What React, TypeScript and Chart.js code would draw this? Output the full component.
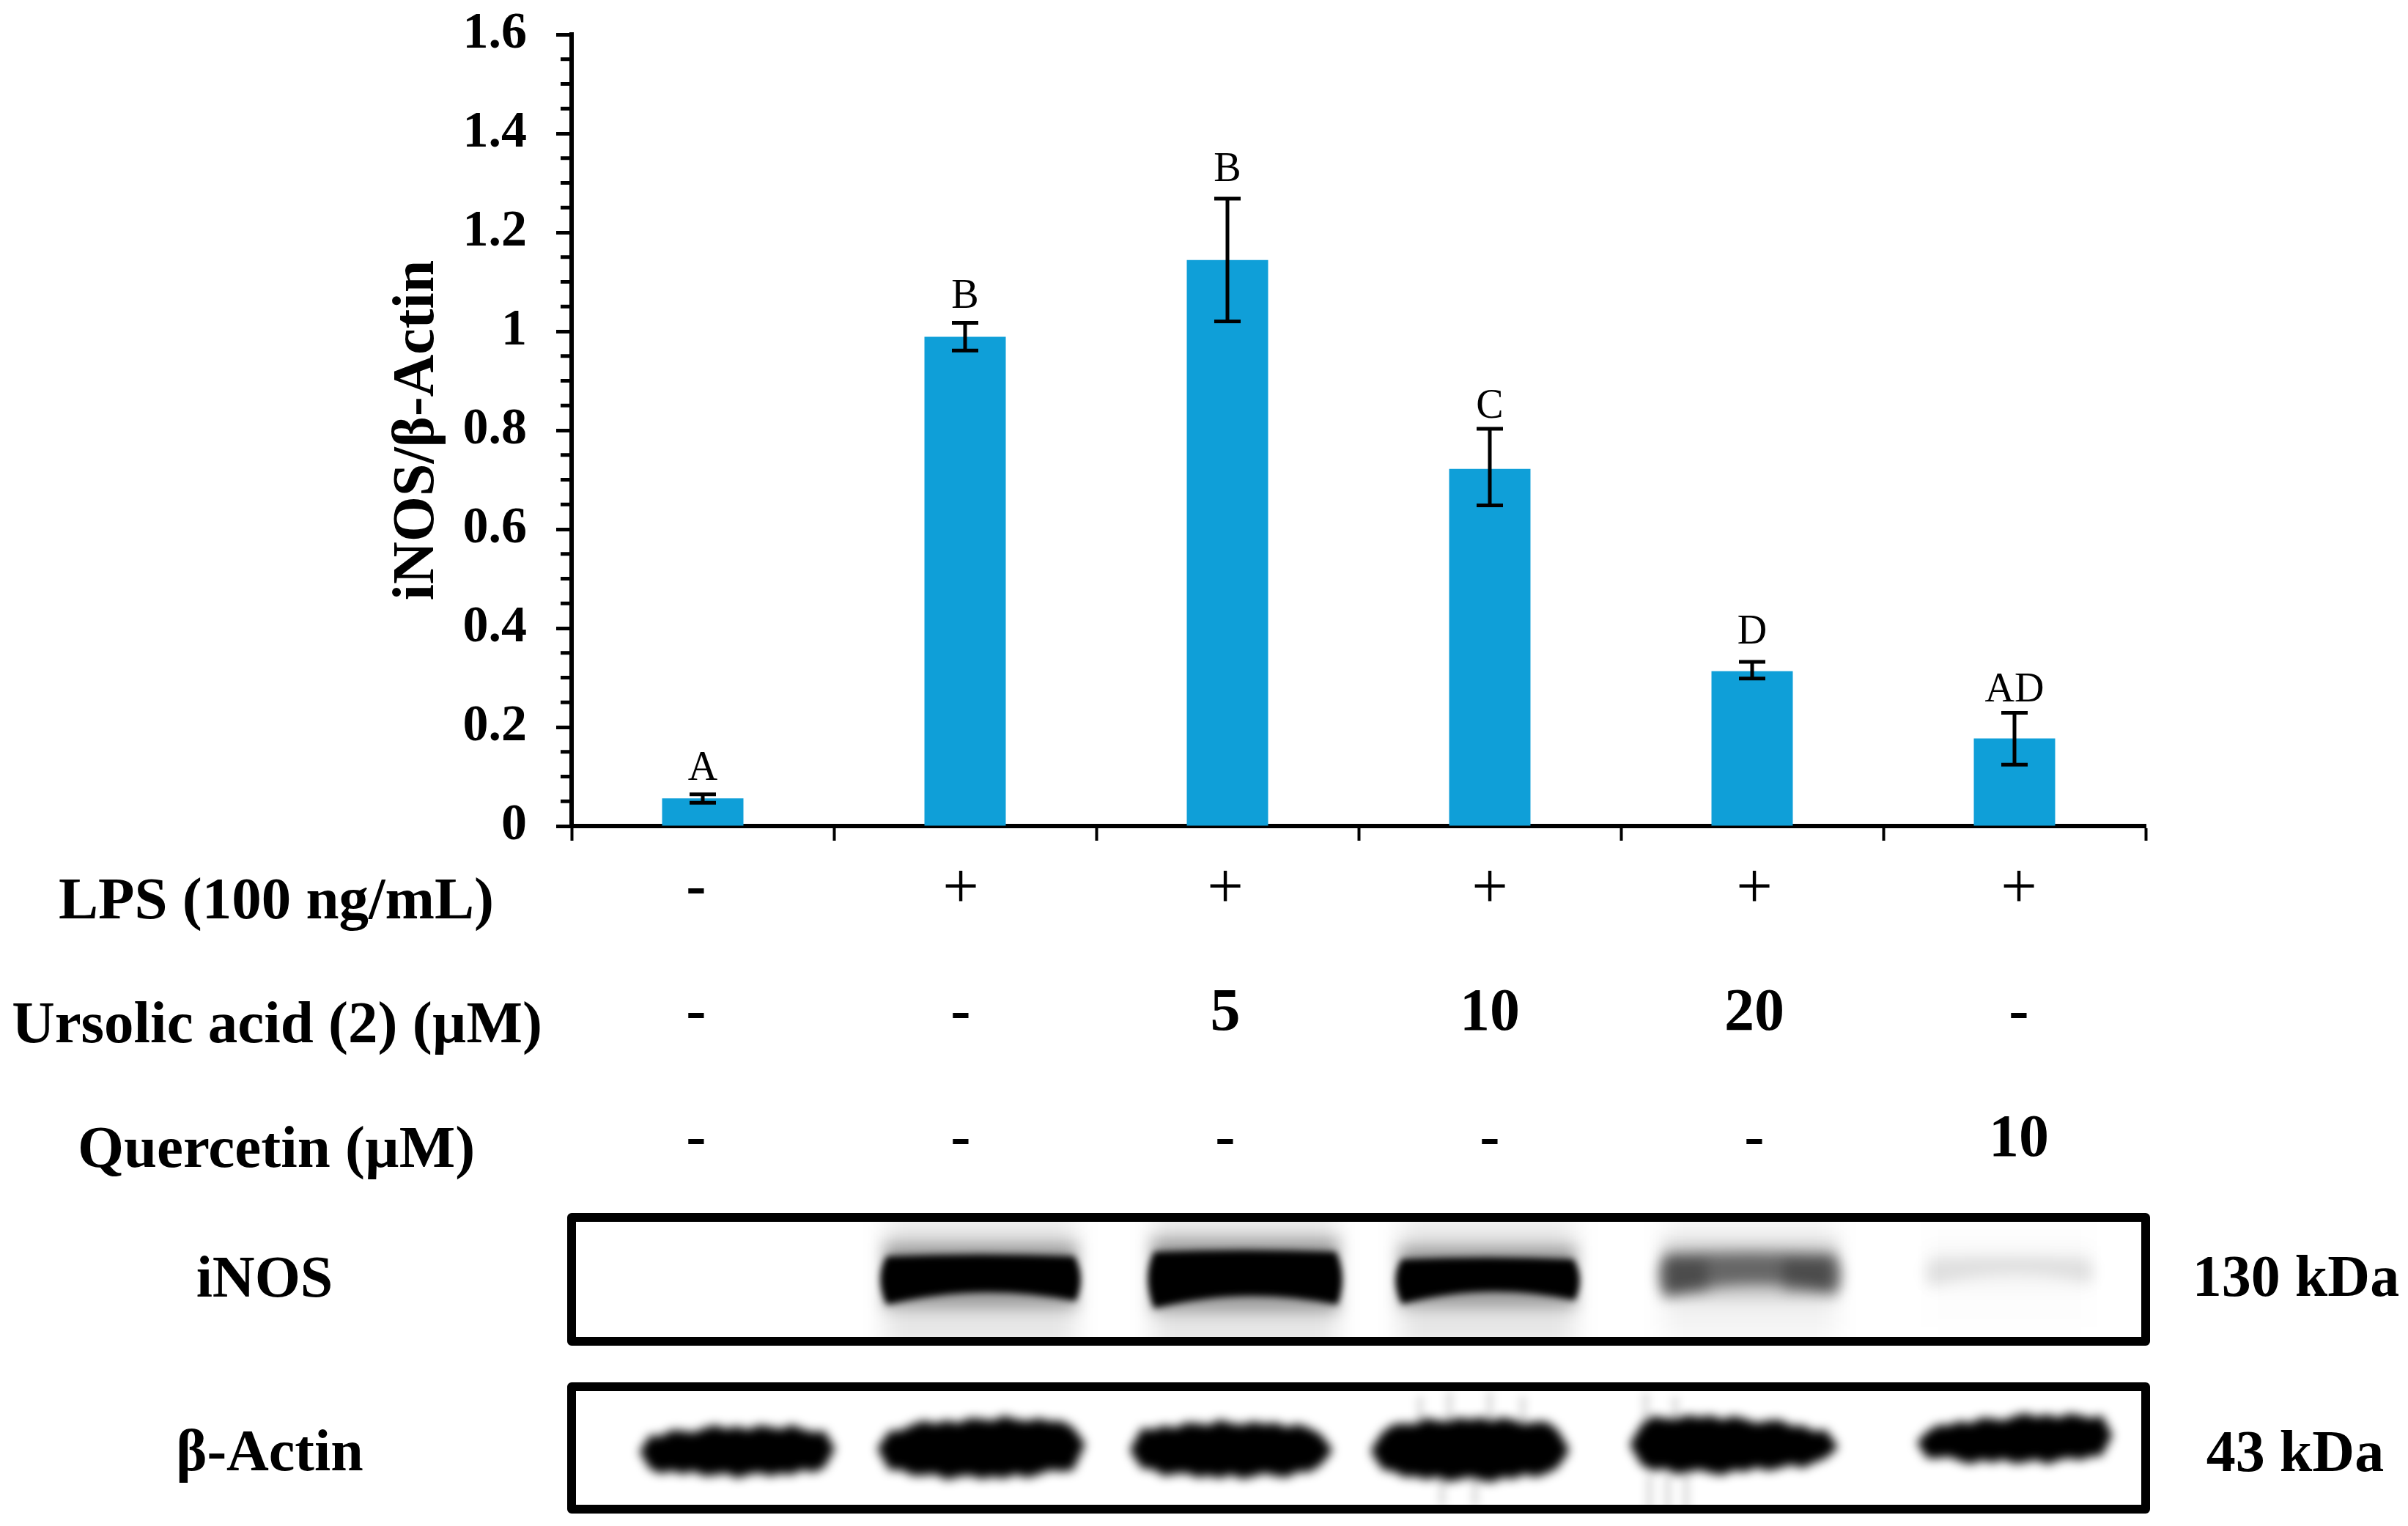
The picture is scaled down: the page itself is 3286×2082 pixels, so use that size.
import React, { useEffect, useRef } from "react";
import { Chart, registerables } from "chart.js";

Chart.register(...registerables);

const categories = ["Control", "LPS", "UA 5", "UA 10", "UA 20", "Quercetin 10"];
const means = [0.056, 0.989, 1.144, 0.722, 0.313, 0.177];
const errLow = [0.047, 0.961, 1.02, 0.648, 0.298, 0.124];
const errHigh = [0.064, 1.017, 1.268, 0.803, 0.332, 0.229];
const letters = ["A", "B", "B", "C", "D", "AD"];
const letterLevels = [0.094, 1.048, 1.303, 0.825, 0.369, 0.252];
const minorTicks = [0.05, 0.1, 0.15, 0.25, 0.3, 0.35, 0.45, 0.5, 0.55, 0.65, 0.7, 0.75, 0.85, 0.9, 0.95, 1.05, 1.1, 1.15, 1.25, 1.3, 1.35, 1.45, 1.5, 1.55];
const lpsRow = ["-", "+", "+", "+", "+", "+"];
const ursolicRow = ["-", "-", "5", "10", "20", "-"];
const quercetinRow = ["-", "-", "-", "-", "-", "10"];
const rowNames = ["LPS (100 ng/mL)", "Ursolic acid (2) (\u00b5M)", "Quercetin (\u00b5M)"];
const blotNames = ["iNOS", "\u03b2-Actin"];
const blotSizes = ["130 kDa", "43 kDa"];
const inosIntensity = [0, 1, 1, 1, 0.5, 0.09];
const actinIntensity = [1, 1, 1, 1, 1, 1];

const SERIF = '"Liberation Serif", "Times New Roman", serif';
const jag = [0, 3, -2, 4, 1, -3, 2, 5, -1, 2, -3, 3, 1, -2, 5, 0, -2, 3];

function inosBand(c: CanvasRenderingContext2D, cx: number, w: number, top: number, bot: number, lv: number) {
  if (lv <= 0) return;
  const l = cx - w / 2;
  const r = cx + w / 2;
  c.filter = "blur(16px)";
  c.fillStyle = `rgba(0,0,0,${0.1 * lv})`;
  c.fillRect(l + 8, top - 50, w - 16, bot - top + 110);
  c.filter = "blur(10px)";
  c.fillStyle = `rgba(0,0,0,${0.3 * lv})`;
  c.fillRect(l + 6, top - 16, w - 12, bot - top + 26);
  c.filter = lv < 0.8 ? "blur(9px)" : "blur(5px)";
  c.fillStyle = `rgba(0,0,0,${lv})`;
  c.beginPath();
  c.moveTo(l + 10, top + 2);
  c.quadraticCurveTo(cx, top - 3, r - 10, top + 2);
  c.quadraticCurveTo(r + 6, (top + bot) / 2, r - 8, bot);
  c.quadraticCurveTo(cx, bot - 26, l + 10, bot + 5);
  c.quadraticCurveTo(l - 7, (top + bot) / 2, l + 10, top + 2);
  c.closePath();
  c.fill();
  if (lv < 0.8 && lv > 0.3) {
    c.fillStyle = "rgba(0,0,0,0.26)";
    c.filter = "blur(9px)";
    c.fillRect(l + 12, top + 8, w * 0.22, bot - top - 10);
    c.fillRect(r - w * 0.32, top + 8, w * 0.26, bot - top - 10);
  }
  c.filter = "none";
}

function actinBand(c: CanvasRenderingContext2D, cx: number, w: number, topL: number, topR: number, botL: number, botR: number, seed: number, lv: number) {
  const l = cx - w / 2;
  const n = 18;
  c.filter = "blur(7px)";
  c.fillStyle = `rgba(0,0,0,${lv})`;
  c.beginPath();
  for (let i = 0; i <= n; i++) {
    const t = i / n;
    const bulge = Math.sin(t * Math.PI) ** 0.22;
    const mid = (topL + botL) / 2 + ((topR + botR - topL - botL) / 2) * t;
    const yy = topL + (topR - topL) * t;
    const y = mid + (yy - mid) * bulge - jag[(i + seed) % jag.length];
    const x = l + w * t;
    if (i === 0) c.moveTo(x, y);
    else c.lineTo(x, y);
  }
  for (let i = n; i >= 0; i--) {
    const t = i / n;
    const bulge = Math.sin(t * Math.PI) ** 0.22;
    const mid = (topL + botL) / 2 + ((topR + botR - topL - botL) / 2) * t;
    const yy = botL + (botR - botL) * t;
    const y = mid + (yy - mid) * bulge + jag[(i + seed + 5) % jag.length];
    c.lineTo(l + w * t, y);
  }
  c.closePath();
  c.fill();
  c.filter = "none";
}

const figurePlugin = {
  id: "figure",
  beforeDraw(chart: any) {
    const c = chart.ctx;
    c.save();
    c.fillStyle = "#fff";
    c.fillRect(0, 0, chart.width, chart.height);
    c.restore();
  },
  afterDatasetsDraw(chart: any) {
    const c: CanvasRenderingContext2D = chart.ctx;
    const x = chart.scales.x;
    const y = chart.scales.y;
    c.save();

    // minor ticks
    c.strokeStyle = "#000";
    c.lineWidth = 5;
    minorTicks.forEach((v) => {
      const py = y.getPixelForValue(v);
      c.beginPath();
      c.moveTo(x.left - 15, py);
      c.lineTo(x.left, py);
      c.stroke();
    });

    // error bars
    c.lineWidth = 5;
    means.forEach((_, i) => {
      const px = x.getPixelForValue(i);
      const hi = y.getPixelForValue(errHigh[i]);
      const lo = y.getPixelForValue(errLow[i]);
      c.beginPath();
      c.moveTo(px, hi);
      c.lineTo(px, lo);
      c.moveTo(px - 18, hi);
      c.lineTo(px + 18, hi);
      c.moveTo(px - 18, lo);
      c.lineTo(px + 18, lo);
      c.stroke();
    });

    // significance letters
    c.fillStyle = "#000";
    c.textAlign = "center";
    c.textBaseline = "alphabetic";
    c.font = `56px ${SERIF}`;
    letters.forEach((t, i) => {
      c.fillText(t, x.getPixelForValue(i), y.getPixelForValue(letterLevels[i]));
    });

    // treatment rows
    const rowX = (i: number) => x.getPixelForValue(i) + (i - 3) * 3;
    const drawRow = (row: string[], baseline: number, nameBaseline: number, name: string, nameX: number) => {
      c.font = `bold 81px ${SERIF}`;
      c.fillText(name, nameX, nameBaseline);
      row.forEach((t, i) => {
        if (t === "+") {
          c.font = `88px ${SERIF}`;
          c.fillText(t, rowX(i), baseline + 3);
        } else {
          c.font = `bold 82px ${SERIF}`;
          c.fillText(t, rowX(i), baseline);
        }
      });
    };
    drawRow(lpsRow, 1235, 1253, rowNames[0], 377);
    drawRow(ursolicRow, 1405, 1422, rowNames[1], 378);
    drawRow(quercetinRow, 1577, 1592, rowNames[2], 377);

    // western blots
    const boxL = x.left;
    const boxR = x.right;
    const boxes = [
      [1661, 1830],
      [1892, 2059],
    ];
    c.save();
    c.beginPath();
    c.rect(boxL, boxes[0][0], boxR - boxL, boxes[0][1] - boxes[0][0]);
    c.clip();
    const inosGeom = [
      [0, 0, 0, 0],
      [21, 276, 1712, 1775],
      [24, 268, 1706, 1780],
      [-3, 254, 1716, 1774],
      [-3, 252, 1710, 1764],
      [-7, 234, 1716, 1750],
    ];
    inosIntensity.forEach((lv, i) => {
      const g = inosGeom[i];
      inosBand(c, x.getPixelForValue(i) + g[0], g[1], g[2], g[3], lv);
    });
    c.restore();

    c.save();
    c.beginPath();
    c.rect(boxL, boxes[1][0], boxR - boxL, boxes[1][1] - boxes[1][0]);
    c.clip();
    const actinGeom = [
      [47, 268, 1952, 1944, 2012, 2012],
      [22, 282, 1942, 1932, 2016, 2014],
      [5, 274, 1942, 1942, 2014, 2014],
      [-27, 268, 1938, 1936, 2018, 2018],
      [-25, 282, 1926, 1946, 2014, 2000],
      [0, 268, 1944, 1924, 1994, 1994],
    ];
    actinIntensity.forEach((lv, i) => {
      const g = actinGeom[i];
      actinBand(c, x.getPixelForValue(i) + g[0], g[1], g[2], g[3], g[4], g[5], i * 3, lv);
    });
    // faint vertical streaks off the bands
    c.filter = "blur(6px)";
    c.fillStyle = "rgba(0,0,0,0.12)";
    [[-60, 1898, 50], [-5, 1898, 45], [-100, 1905, 40], [40, 1905, 40]].forEach((s) => c.fillRect(x.getPixelForValue(3) + s[0], s[1], 10, s[2]));
    [[-150, 1900, 40], [-110, 1905, 35]].forEach((s) => c.fillRect(x.getPixelForValue(4) + s[0], s[1], 10, s[2]));
    [[-145, 2012, 48], [-120, 2012, 48], [-95, 2012, 48]].forEach((s) => c.fillRect(x.getPixelForValue(4) + s[0], s[1], 10, s[2]));
    [[-70, 2014, 40], [-25, 2014, 40]].forEach((s) => c.fillRect(x.getPixelForValue(3) + s[0], s[1], 10, s[2]));
    c.filter = "none";
    c.restore();

    c.strokeStyle = "#000";
    c.lineWidth = 12;
    c.lineJoin = "round";
    boxes.forEach(([t, b]) => c.strokeRect(boxL, t, boxR - boxL, b - t));

    c.font = `bold 80px ${SERIF}`;
    c.fillStyle = "#000";
    c.fillText(blotNames[0], 361, 1769);
    c.fillText(blotNames[1], 368, 2006);
    c.fillText(blotSizes[0], 3133, 1768);
    c.fillText(blotSizes[1], 3132, 2007);
    c.restore();
  },
};

export default function App() {
  const ref = useRef<HTMLCanvasElement>(null);
  useEffect(() => {
    document.body.style.background = "#fff";
    const chart = new Chart(ref.current as HTMLCanvasElement, {
      type: "bar",
      data: {
        labels: categories,
        datasets: [
          {
            data: means,
            backgroundColor: "#0F9FD8",
            borderWidth: 0,
            barPercentage: 1,
            categoryPercentage: 0.31,
          },
        ],
      },
      plugins: [figurePlugin],
      options: {
        animation: false,
        responsive: false,
        devicePixelRatio: 1,
        layout: { padding: { left: 500, right: 358, top: 47, bottom: 925 } },
        plugins: { legend: { display: false }, tooltip: { enabled: false }, title: { display: false } },
        scales: {
          x: {
            afterFit: (s: any) => {
              s.height = 30;
              s.paddingLeft = 0;
              s.paddingRight = 0;
            },
            border: { color: "#000", width: 6 },
            grid: { display: true, drawOnChartArea: false, offset: true, tickLength: 20, tickColor: "#000", tickWidth: 4 },
            ticks: { display: false },
          },
          y: {
            min: 0,
            max: 1.6,
            afterFit: (s: any) => {
              s.width = 280;
              s.paddingTop = 0;
              s.paddingBottom = 0;
            },
            border: { color: "#000", width: 6 },
            grid: { display: true, drawOnChartArea: false, tickLength: 21, tickColor: "#000", tickWidth: 5 },
            ticks: {
              stepSize: 0.2,
              padding: 40,
              color: "#000",
              font: { family: SERIF, size: 70, weight: "bold" },
              callback: (v: any) => String(Number(Number(v).toFixed(1))),
            },
            title: {
              display: true,
              text: "iNOS/\u03b2-Actin",
              color: "#000",
              font: { family: SERIF, size: 80, weight: "bold" },
              padding: { top: 22, bottom: 0 },
            },
          },
        },
      },
    } as any);
    return () => chart.destroy();
  }, []);
  return <canvas ref={ref} width={3286} height={2082} style={{ position: "absolute", left: 0, top: 0, display: "block" }} />;
}
